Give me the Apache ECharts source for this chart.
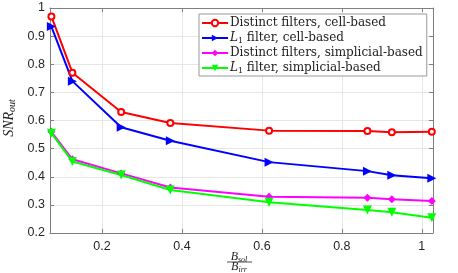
<!DOCTYPE html>
<html><head><meta charset="utf-8">
<script src="https://cdn.jsdelivr.net/npm/echarts@6/dist/echarts.min.js"></script>
<style>html,body{margin:0;padding:0;background:#fff}#c{width:458px;height:273px}</style>
</head><body><div id="c"></div>
<script>
var xVals = [0.0735, 0.126, 0.248, 0.371, 0.618, 0.864, 0.925, 1.025];
var redVals = [0.970, 0.770, 0.630, 0.591, 0.564, 0.563, 0.558, 0.560];
var blueVals = [0.934, 0.740, 0.576, 0.528, 0.452, 0.420, 0.405, 0.395];
var magentaVals = [0.560, 0.462, 0.412, 0.362, 0.329, 0.325, 0.320, 0.314];
var greenVals = [0.555, 0.454, 0.406, 0.353, 0.309, 0.282, 0.274, 0.254];
var names = ['Distinct filters, cell-based', 'L1 filter, cell-based', 'Distinct filters, simplicial-based', 'L1 filter, simplicial-based'];

function pairs(ys){ return xVals.map(function(x,i){ return [x, ys[i]]; }); }
var chart = echarts.init(document.getElementById('c'));
var tickFont = {fontFamily:'Liberation Sans', fontSize:12.5, color:'#262626'};
var gridCol = '#e6e6e6', axCol = '#808080';
var LF = 'DejaVu Serif', LS = 12;
function mk(name, ys, color, symbol, rot, size){
  return {name:name, type:'line', data:pairs(ys), symbol:symbol, symbolRotate:rot, symbolSize:size,
    lineStyle:{color:color, width:2}, itemStyle:{color:color, borderWidth: symbol==='emptyCircle'?2:0},
    color:color, animation:false, z:3};
}
chart.setOption({
  animation:false,
  grid:{left:50, right:25, top:8, bottom:40, show:false},
  xAxis:[{type:'value', min:0.07, max:1.028, splitNumber:5,
    axisLine:{show:true, onZero:false, lineStyle:{color:axCol}},
    axisTick:{show:true, inside:true, length:4, lineStyle:{color:axCol}},
    axisLabel:Object.assign({margin:7, showMinLabel:false, showMaxLabel:false}, tickFont),
    splitLine:{show:true, lineStyle:{color:gridCol}}},
   {type:'value', position:'top', min:0.07, max:1.028, splitNumber:5,
    axisLine:{show:true, onZero:false, lineStyle:{color:axCol}},
    axisTick:{show:true, inside:true, length:4, lineStyle:{color:axCol}},
    axisLabel:{show:false}, splitLine:{show:false}}],
  yAxis:[{type:'value', min:0.2, max:1, interval:0.1,
    axisLine:{show:true, onZero:false, lineStyle:{color:axCol}},
    axisTick:{show:true, inside:true, length:4, lineStyle:{color:axCol}},
    axisLabel:Object.assign({margin:5}, tickFont),
    splitLine:{show:true, lineStyle:{color:gridCol}}},
   {type:'value', position:'right', min:0.2, max:1, interval:0.1,
    axisLine:{show:true, onZero:false, lineStyle:{color:axCol}},
    axisTick:{show:true, inside:true, length:4, lineStyle:{color:axCol}},
    axisLabel:{show:false}, splitLine:{show:false}}],
  legend:{left:199, top:14, orient:'vertical', itemWidth:26, itemHeight:8, itemGap:1,
    padding:[2,4,1,2], backgroundColor:'#fff', borderColor:'#999', borderWidth:1, borderRadius:0,
    data:names,
    textStyle:{fontFamily:LF, fontSize:LS, color:'#222', lineHeight:14, padding:[0,0,0,-3],
      rich:{i:{fontFamily:LF, fontStyle:'italic', fontSize:LS, color:'#222', lineHeight:14},
            s:{fontFamily:LF, fontSize:8, color:'#222', lineHeight:14, padding:[5,0,0,0]},
            n:{fontFamily:LF, fontSize:LS, color:'#222', lineHeight:14}}},
    formatter:function(n){ if(n.indexOf('L1')===0){ return '{i|L}{s|1}{n|'+n.slice(2)+'}'; } return n; }},
  series:[
    mk(names[0], redVals, '#ff0000', 'emptyCircle', 0, 6),
    mk(names[1], blueVals, '#0000ff', 'triangle', -90, 9),
    mk(names[2], magentaVals, '#ff00ff', 'diamond', 0, 8),
    mk(names[3], greenVals, '#00ff00', 'triangle', 180, 9)
  ],
  graphic:[
    {type:'text', x:9, y:118, rotation:Math.PI/2, style:{
      text:'{a|SNR}{b|out}', align:'center', verticalAlign:'middle',
      rich:{a:{fontFamily:'Liberation Serif', fontStyle:'italic', fontSize:14, fill:'#222'},
            b:{fontFamily:'Liberation Serif', fontStyle:'italic', fontSize:10, fill:'#222', padding:[6,0,0,0]}}}},
    {type:'text', x:239, y:257, style:{text:'{a|B}{b|sol}', align:'center', verticalAlign:'middle',
      rich:{a:{fontFamily:'Liberation Serif', fontStyle:'italic', fontSize:12, fill:'#222'},
            b:{fontFamily:'Liberation Serif', fontStyle:'italic', fontSize:8, fill:'#222', padding:[5,0,0,0]}}}},
    {type:'line', shape:{x1:227, y1:262, x2:252, y2:262}, style:{stroke:'#222', lineWidth:0.8}},
    {type:'text', x:239, y:267, style:{text:'{a|B}{b|irr}', align:'center', verticalAlign:'middle',
      rich:{a:{fontFamily:'Liberation Serif', fontStyle:'italic', fontSize:12, fill:'#222'},
            b:{fontFamily:'Liberation Serif', fontStyle:'italic', fontSize:8, fill:'#222', padding:[5,0,0,0]}}}}
  ]
});
</script></body></html>
